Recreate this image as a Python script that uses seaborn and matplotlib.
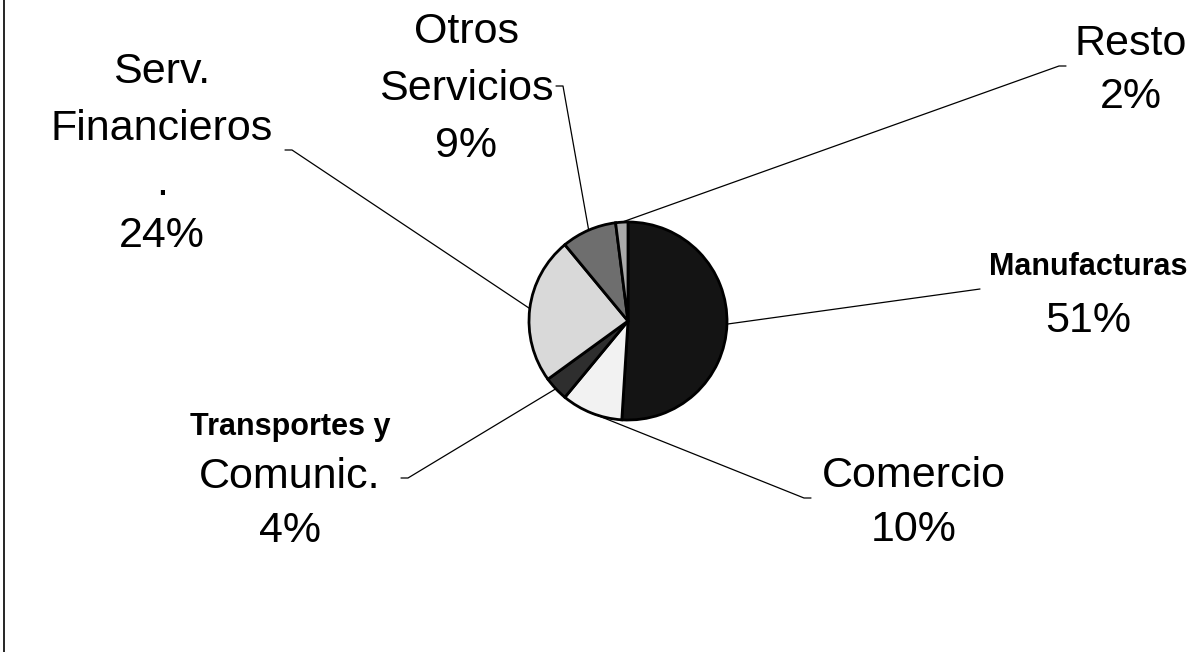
import numpy as np
import matplotlib.pyplot as plt
import seaborn as sns

# ==========================
# DATA
# ==========================

sectors = ["Manufacturas", "Comercio", "Transportes y Comunic.",
           "Serv. Financieros", "Otros Servicios", "Resto"]
shares = [51, 10, 4, 24, 9, 2]

# label text split in lines (percentage is added as last line)
label_lines = [
    ["Manufacturas"],
    ["Comercio"],
    ["Transportes y", "Comunic."],
    ["Serv.", "Financieros", "."],
    ["Otros", "Servicios"],
    ["Resto"],
]
bold_first = [True, False, True, False, False, False]

grays = ["#141414", "#f2f2f2", "#2e2e2e", "#d9d9d9", "#6e6e6e", "#a9a9a9"]

# ==========================
# LAYOUT (pixel coords, y from top)
# ==========================

W, H = 1202, 652
pie_center = (628, 321)
pie_radius = 99

label_x = [1088, 914, 290, 162, 466, 1131]
label_baselines = [
    [275, 332],
    [487, 541],
    [435, 488, 542],
    [83, 140, 195, 247],
    [43, 100, 157],
    [55, 108],
]
# knee of leader line and direction of the small hook toward the text
leader_knee = [(980, 289), (804, 498), (408, 478), (292, 150), (563, 86), (1059, 66)]
hook_dir = [0, 1, -1, -1, -1, 1]


def fy(y):
    return H - y


sns.set_style("white")
plt.rcParams["font.family"] = ["Liberation Sans", "DejaVu Sans"]

fig = plt.figure(figsize=(12.02, 6.52), dpi=100)
ax = fig.add_axes([0, 0, 1, 1])

wedges, _ = ax.pie(
    shares,
    colors=grays,
    startangle=90,
    counterclock=False,
    center=(pie_center[0], fy(pie_center[1])),
    radius=pie_radius,
    wedgeprops=dict(edgecolor="black", linewidth=2),
)

ax.set_xlim(0, W)
ax.set_ylim(0, H)
ax.set_aspect("equal")
ax.axis("off")

# leader lines
for w, knee, hd in zip(wedges, leader_knee, hook_dir):
    theta = np.deg2rad((w.theta1 + w.theta2) / 2)
    px = w.center[0] + w.r * np.cos(theta)
    py = w.center[1] + w.r * np.sin(theta)
    xs = [px, knee[0]]
    ys = [py, fy(knee[1])]
    if hd != 0:
        xs.append(knee[0] + hd * 7)
        ys.append(fy(knee[1]))
    ax.plot(xs, ys, color="black", lw=0.9)

# labels
for lines, bold, x, bases, val in zip(label_lines, bold_first, label_x,
                                       label_baselines, shares):
    texts = lines + [f"{val}%"]
    for i, (t, b) in enumerate(zip(texts, bases)):
        is_bold = bold and i == 0
        ax.text(x, fy(b), t, ha="center", va="baseline",
                fontsize=22 if is_bold else 31,
                fontweight="bold" if is_bold else "normal",
                color="black")

# left frame edge
ax.plot([4, 4], [0, H], color="black", lw=1.2)

fig.savefig("out.png", dpi=100)
